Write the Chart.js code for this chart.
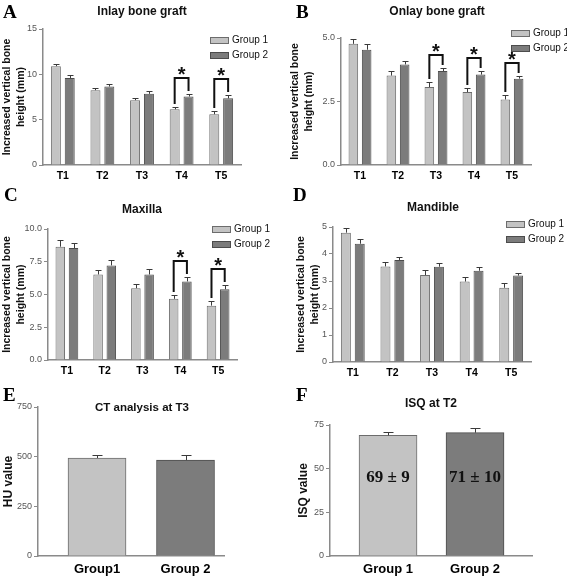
<!DOCTYPE html>
<html>
<head>
<meta charset="utf-8">
<script src="https://cdn.jsdelivr.net/npm/chart.js@4.4.1/dist/chart.umd.min.js"></script>
<style>
  body { margin: 0; background: #fff; }
  #fig { position: relative; width: 567px; height: 577px; overflow: hidden; background: #fff; }
  #fig canvas { position: absolute; }
  .letter { position: absolute; font: bold 19px "Liberation Serif", "DejaVu Serif", serif; line-height: 19px; color: #000; }
  .ptitle { position: absolute; width: 200px; text-align: center; font: bold 12px "Liberation Sans", Arial, sans-serif; line-height: 14px; color: #111; }
</style>
</head>
<body>
<div id="fig">
  <canvas id="chartA"></canvas>
  <canvas id="chartB"></canvas>
  <canvas id="chartC"></canvas>
  <canvas id="chartD"></canvas>
  <canvas id="chartE"></canvas>
  <canvas id="chartF"></canvas>

  <div class="letter" style="left:3px;top:2px">A</div>
  <div class="letter" style="left:296px;top:2px">B</div>
  <div class="letter" style="left:4px;top:185px">C</div>
  <div class="letter" style="left:293px;top:185px">D</div>
  <div class="letter" style="left:3px;top:385px">E</div>
  <div class="letter" style="left:296px;top:385px">F</div>

  <div class="ptitle" style="left:42px;top:4px">Inlay bone graft</div>
  <div class="ptitle" style="left:337px;top:4px">Onlay bone graft</div>
  <div class="ptitle" style="left:42px;top:202px">Maxilla</div>
  <div class="ptitle" style="left:333px;top:200px">Mandible</div>
  <div class="ptitle" style="left:42px;top:400px;font-size:11.5px">CT analysis at T3</div>
  <div class="ptitle" style="left:331px;top:396px">ISQ at T2</div>
</div>
<script>
const timepoints = ['T1', 'T2', 'T3', 'T4', 'T5'];
const groupNames = ['Group 1', 'Group 2'];
const heightTitle = ['Increased vertical bone', 'height (mm)'];

// A - inlay bone graft
const inlayG1 = [10.9, 8.25, 7.15, 6.15, 5.6];
const inlayG1Err = [0.22, 0.25, 0.22, 0.29, 0.36];
const inlayG2 = [9.6, 8.65, 7.85, 7.55, 7.35];
const inlayG2Err = [0.33, 0.33, 0.29, 0.33, 0.36];
const inlaySig = [3, 4];

// B - onlay bone graft
const onlayG1 = [4.77, 3.52, 3.07, 2.87, 2.58];
const onlayG1Err = [0.2, 0.2, 0.2, 0.17, 0.17];
const onlayG2 = [4.54, 3.96, 3.7, 3.56, 3.4];
const onlayG2Err = [0.22, 0.15, 0.13, 0.14, 0.12];
const onlaySig = [2, 3, 4];

// C - maxilla
const maxillaG1 = [8.65, 6.53, 5.48, 4.67, 4.15];
const maxillaG1Err = [0.5, 0.35, 0.33, 0.3, 0.33];
const maxillaG2 = [8.55, 7.22, 6.53, 6.0, 5.4];
const maxillaG2Err = [0.4, 0.43, 0.4, 0.35, 0.33];
const maxillaSig = [3, 4];

// D - mandible
const mandibleG1 = [4.79, 3.54, 3.22, 2.98, 2.75];
const mandibleG1Err = [0.18, 0.18, 0.17, 0.15, 0.16];
const mandibleG2 = [4.38, 3.78, 3.53, 3.38, 3.2];
const mandibleG2Err = [0.19, 0.12, 0.15, 0.15, 0.11];

// E - CT analysis
const ctLabels = ['Group1', 'Group 2'];
const ctValues = [493, 483];
const ctErr = [14, 27];

// F - ISQ
const isqLabels = ['Group 1', 'Group 2'];
const isqValues = [69.1, 70.6];
const isqErr = [1.9, 2.5];
const isqText = ['69 \u00b1 9', '71 \u00b1 10'];

const SANS = '"Liberation Sans", Arial, sans-serif';
const SERIF = '"Liberation Serif", "Times New Roman", serif';
const G1_FILL = '#c3c3c3';
const G1_LINE = '#6c6c6c';
const G2_FILL = '#7c7c7c';
const G2_LINE = '#4c4c4c';
const AXIS = '#8a8a8a';

Chart.defaults.font.family = SANS;

// error bars, significance brackets, legend and in-bar labels
const decor = {
  id: 'decor',
  afterDatasetsDraw(chart, args, opts) {
    const ctx = chart.ctx;
    const yScale = chart.scales.y;
    const capTop = (i, j) => {
      const meta = chart.getDatasetMeta(i);
      const v = meta.controller.getParsed(j).y;
      return Math.round(yScale.getPixelForValue(v + chart.data.datasets[i].errors[j]));
    };
    ctx.save();

    chart.data.datasets.forEach((ds, i) => {
      const meta = chart.getDatasetMeta(i);
      meta.data.forEach((bar, j) => {
        const top = capTop(i, j);
        const x = Math.round(bar.x) + 0.5;
        ctx.strokeStyle = '#3a3a3a';
        ctx.lineWidth = 1;
        ctx.beginPath();
        ctx.moveTo(x, bar.y);
        ctx.lineTo(x, top);
        ctx.moveTo(x - opts.cap, top + 0.5);
        ctx.lineTo(x + opts.cap, top + 0.5);
        ctx.stroke();
      });
    });

    (opts.sig || []).forEach((j) => {
      const a = chart.getDatasetMeta(0).data[j];
      const b = chart.getDatasetMeta(1).data[j];
      const ca = capTop(0, j);
      const cb = capTop(1, j);
      const top = Math.min(ca, cb) - opts.sigGap;
      ctx.strokeStyle = '#111';
      ctx.lineWidth = 2;
      ctx.beginPath();
      ctx.moveTo(a.x, ca - 3);
      ctx.lineTo(a.x, top);
      ctx.lineTo(b.x, top);
      ctx.lineTo(b.x, cb - 3);
      ctx.stroke();
      ctx.fillStyle = '#111';
      ctx.font = 'bold 20px ' + SANS;
      ctx.textAlign = 'center';
      ctx.textBaseline = 'middle';
      ctx.fillText('*', (a.x + b.x) / 2, top - 3);
    });

    if (opts.legend) {
      const { x, y } = opts.legend;
      chart.data.datasets.forEach((ds, i) => {
        const cy = Math.round(y + i * 15);
        ctx.fillStyle = ds.backgroundColor;
        ctx.fillRect(x, cy - 3, 19, 7);
        ctx.strokeStyle = ds.borderColor;
        ctx.lineWidth = 1;
        ctx.strokeRect(x + 0.5, cy - 2.5, 18, 6);
        ctx.fillStyle = '#111';
        ctx.font = '10px ' + SANS;
        ctx.textAlign = 'left';
        ctx.textBaseline = 'middle';
        ctx.fillText(ds.label, x + 22, cy + 0.5);
      });
    }

    if (opts.barText) {
      const meta = chart.getDatasetMeta(0);
      ctx.fillStyle = '#111';
      ctx.font = 'bold 17px ' + SERIF;
      ctx.textAlign = 'center';
      ctx.textBaseline = 'middle';
      meta.data.forEach((bar, j) => {
        ctx.fillText(opts.barText.texts[j], bar.x, yScale.getPixelForValue(opts.barText.at));
      });
    }
    ctx.restore();
  },
};

function buildPanel(id, spec) {
  const { box, area } = spec;
  const canvas = document.getElementById(id);
  canvas.width = box.w;
  canvas.height = box.h;
  canvas.style.left = box.x + 'px';
  canvas.style.top = box.y + 'px';

  const yWidth = area.l - box.x;
  const xHeight = spec.xHeight;

  let xScale = {
    type: 'category',
    offset: true,
    grid: { display: false, drawTicks: false },
    border: { display: true, color: AXIS, width: 1.5 },
    ticks: { color: '#000', font: { size: spec.xFont, weight: 'bold' }, padding: spec.xPad, maxRotation: 0 },
    afterFit: (s) => { s.height = xHeight; },
  };
  if (spec.xRange) {
    xScale = {
      ...xScale,
      type: 'linear',
      offset: false,
      min: spec.xRange[0],
      max: spec.xRange[1],
      afterBuildTicks: (s) => { s.ticks = spec.labels.map((_, i) => ({ value: i + 1 })); },
      ticks: { ...xScale.ticks, callback: (v) => spec.labels[v - 1] },
    };
  }

  return new Chart(canvas, {
    type: 'bar',
    data: { labels: spec.xRange ? undefined : spec.labels, datasets: spec.datasets },
    options: {
      responsive: false,
      animation: false,
      events: [],
      layout: {
        padding: {
          left: 0,
          top: area.t - box.y,
          right: box.x + box.w - area.r,
          bottom: box.y + box.h - area.b - xHeight,
        },
      },
      plugins: {
        legend: { display: false },
        tooltip: { enabled: false },
        decor: {
          cap: spec.cap,
          sig: spec.sig,
          sigGap: spec.sigGap || 16,
          legend: spec.legend ? { x: spec.legend.x - box.x, y: spec.legend.y - box.y } : null,
          barText: spec.barText,
        },
      },
      scales: {
        x: xScale,
        y: {
          min: 0,
          max: spec.yMax,
          border: { display: true, color: AXIS, width: 1.5 },
          grid: { drawOnChartArea: false, drawTicks: true, tickLength: 4, color: AXIS },
          ticks: {
            stepSize: spec.yStep,
            color: '#555',
            font: { size: 9 },
            padding: 2,
            callback: (v) => v.toFixed(spec.decimals),
          },
          title: {
            display: true,
            text: spec.yTitle,
            color: '#111',
            font: { size: spec.yTitleSize, weight: 'bold', lineHeight: 1.35 },
            padding: { top: spec.yTitlePad, bottom: 0 },
          },
          afterFit: (s) => { s.width = yWidth; },
        },
      },
    },
    plugins: [decor],
  });
}

function pairDatasets(g1, g1Err, g2, g2Err) {
  return [
    { label: groupNames[0], data: g1, errors: g1Err, backgroundColor: G1_FILL, borderColor: G1_LINE,
      borderWidth: 1, categoryPercentage: 0.7, barPercentage: 0.72 },
    { label: groupNames[1], data: g2, errors: g2Err, backgroundColor: G2_FILL, borderColor: G2_LINE,
      borderWidth: 1, categoryPercentage: 0.7, barPercentage: 0.72 },
  ];
}

function singleDataset(labels, values, errs) {
  return [{
    label: 'value',
    data: values.map((v, i) => ({ x: i + 1, y: v })),
    errors: errs,
    backgroundColor: [G1_FILL, G2_FILL],
    borderColor: [G1_LINE, G2_LINE],
    borderWidth: 1,
    barThickness: 58,
  }];
}

const groupedBase = { labels: timepoints, xHeight: 18, xFont: 10.5, xPad: 5, cap: 3, yTitle: heightTitle, yTitleSize: 10.5 };

buildPanel('chartA', {
  ...groupedBase,
  box: { x: 0, y: 0, w: 284, h: 190 },
  area: { l: 43, t: 29, r: 241, b: 165 },
  datasets: pairDatasets(inlayG1, inlayG1Err, inlayG2, inlayG2Err),
  yMax: 15, yStep: 5, decimals: 0, yTitlePad: 0,
  legend: { x: 210, y: 40 }, sig: inlaySig,
});

buildPanel('chartB', {
  ...groupedBase,
  box: { x: 284, y: 0, w: 283, h: 190 },
  area: { l: 341, t: 38, r: 531, b: 165 },
  datasets: pairDatasets(onlayG1, onlayG1Err, onlayG2, onlayG2Err),
  yMax: 5, yStep: 2.5, decimals: 1, yTitlePad: 4,
  legend: { x: 511, y: 33 }, sig: onlaySig, sigGap: 13,
});

buildPanel('chartC', {
  ...groupedBase,
  box: { x: 0, y: 190, w: 284, h: 190 },
  area: { l: 48, t: 229, r: 237, b: 360 },
  datasets: pairDatasets(maxillaG1, maxillaG1Err, maxillaG2, maxillaG2Err),
  yMax: 10, yStep: 2.5, decimals: 1, yTitlePad: 0,
  legend: { x: 212, y: 229 }, sig: maxillaSig,
});

buildPanel('chartD', {
  ...groupedBase,
  box: { x: 284, y: 190, w: 283, h: 190 },
  area: { l: 333, t: 227, r: 531, b: 362 },
  datasets: pairDatasets(mandibleG1, mandibleG1Err, mandibleG2, mandibleG2Err),
  yMax: 5, yStep: 1, decimals: 0, yTitlePad: 10,
  legend: { x: 506, y: 224 }, sig: [],
});

buildPanel('chartE', {
  labels: ctLabels, xHeight: 21, xFont: 13, xPad: 6, cap: 5,
  xRange: [0.333, 2.435],
  box: { x: 0, y: 380, w: 284, h: 197 },
  area: { l: 38, t: 407, r: 224, b: 556 },
  datasets: singleDataset(ctLabels, ctValues, ctErr),
  yMax: 750, yStep: 250, decimals: 0,
  yTitle: 'HU value', yTitleSize: 12, yTitlePad: 1,
  sig: [],
});

buildPanel('chartF', {
  labels: isqLabels, xHeight: 21, xFont: 13, xPad: 6, cap: 5,
  xRange: [0.333, 2.655],
  box: { x: 284, y: 380, w: 283, h: 197 },
  area: { l: 330, t: 425, r: 532, b: 556 },
  datasets: singleDataset(isqLabels, isqValues, isqErr),
  yMax: 75, yStep: 25, decimals: 0,
  yTitle: 'ISQ value', yTitleSize: 12, yTitlePad: 12,
  sig: [], barText: { texts: isqText, at: 45 },
});
</script>
</body>
</html>
